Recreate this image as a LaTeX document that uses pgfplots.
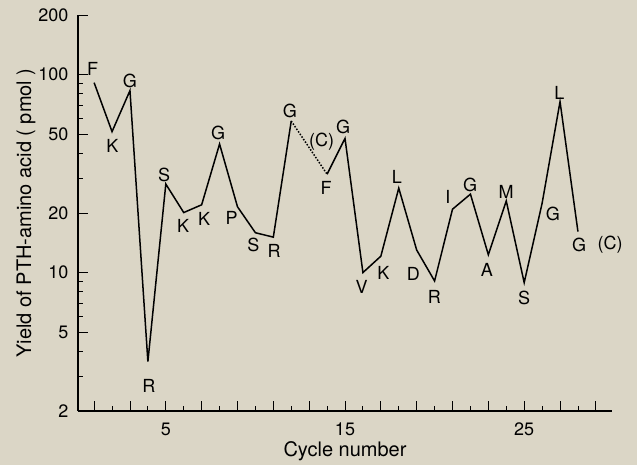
\documentclass[border=0pt]{standalone}
\usepackage{fontspec}
\setmainfont{TeX Gyre Heros}
\usepackage{pgfplots}
\pgfplotsset{compat=1.18}
\definecolor{bg}{RGB}{219,214,198}
\newcommand{\lbl}{\fontsize{18}{20}\selectfont}
\begin{document}
\begin{tikzpicture}
\fill[bg] (-78pt,-54pt) rectangle (559pt,411pt);
\path[use as bounding box] (-78pt,-54pt) rectangle (559pt,411pt);
\begin{axis}[
  at={(0pt,0pt)}, anchor=south west,
  scale only axis, width=534pt, height=396pt,
  axis x line*=bottom, axis y line*=left,
  axis line style={line width=1.1pt},
  xtick pos=left, ytick pos=left,
  xmin=0.1, xmax=29.9, ymin=2, ymax=200, ymode=log,
  xtick={1,3,...,29}, xticklabels={,,5,,,,,15,,,,,25,,},
  minor xtick={2,4,...,28},
  ytick={2,5,10,20,50,100,200}, yticklabels={2,5,10,20,50,100,200},
  minor ytick={3,4,6,7,8,9,30,40,60,70,80,90},
  tick align=inside,
  major tick length=10pt, minor tick length=5pt,
  every tick/.style={black, line width=0.9pt},
  ticklabel style={font=\fontsize{18}{20}\selectfont},
  xticklabel style={yshift=-8pt},
  yticklabel style={xshift=-6pt},
  xlabel={Cycle number}, ylabel={Yield of PTH-amino acid ( pmol )},
  label style={font=\fontsize{20}{22}\selectfont},
  xlabel style={yshift=1pt},
  ylabel style={yshift=-4pt},
  clip=false,
]
\addplot[black, line width=1.5pt] coordinates {(1,91)(2,51.5)(3,83)(4,3.55)(5,28)(6,20.1)(7,22)(8,44.6)(9,21.5)(10,15.9)(11,15.1)(12,58.3)};
\addplot[black, line width=1.5pt, dash pattern=on 1.5pt off 1.6pt] coordinates {(12,58.3)(14,31.4)};
\addplot[black, line width=1.5pt] coordinates {(14,31.4)(15,47.6)(16,10)(17,12.1)(18,26.7)(19,13)(20,9.07)(21,20.9)(22,24.9)(23,12.3)(24,23)(25,8.9)(26,22.4)(27,73)(28,16.1)};
\node[font=\lbl] at (axis cs:0.92,106.8) {F};
\node[font=\lbl] at (axis cs:2.02,43.6) {K};
\node[font=\lbl] at (axis cs:2.99,93.1) {G};
\node[font=\lbl] at (axis cs:4.05,2.67) {R};
\node[font=\lbl] at (axis cs:4.9,31.1) {S};
\node[font=\lbl] at (axis cs:5.97,17.2) {K};
\node[font=\lbl] at (axis cs:7.14,18.6) {K};
\node[font=\lbl] at (axis cs:7.92,50.5) {G};
\node[font=\lbl] at (axis cs:8.67,18.8) {P};
\node[font=\lbl] at (axis cs:9.88,13.8) {S};
\node[font=\lbl] at (axis cs:11.05,12.9) {R};
\node[font=\lbl] at (axis cs:11.93,65.7) {G};
\node[font=\lbl] at (axis cs:13.7,45.8) {(C)};
\node[font=\lbl] at (axis cs:13.94,26.7) {F};
\node[font=\lbl] at (axis cs:14.9,54.2) {G};
\node[font=\lbl] at (axis cs:15.93,8.49) {V};
\node[font=\lbl] at (axis cs:17.14,9.92) {K};
\node[font=\lbl] at (axis cs:17.89,30.5) {L};
\node[font=\lbl] at (axis cs:18.82,9.8) {D};
\node[font=\lbl] at (axis cs:19.99,7.56) {R};
\node[font=\lbl] at (axis cs:20.74,24.0) {I};
\node[font=\lbl] at (axis cs:21.98,27.7) {G};
\node[font=\lbl] at (axis cs:22.92,10.3) {A};
\node[font=\lbl] at (axis cs:23.99,25.6) {M};
\node[font=\lbl] at (axis cs:25.0,7.47) {S};
\node[font=\lbl] at (axis cs:26.6,19.8) {G};
\node[font=\lbl] at (axis cs:26.96,81.0) {L};
\node[font=\lbl] at (axis cs:28.07,13.8) {G};
\node[font=\lbl] at (axis cs:29.8,13.8) {(C)};
\end{axis}
\end{tikzpicture}
\end{document}
